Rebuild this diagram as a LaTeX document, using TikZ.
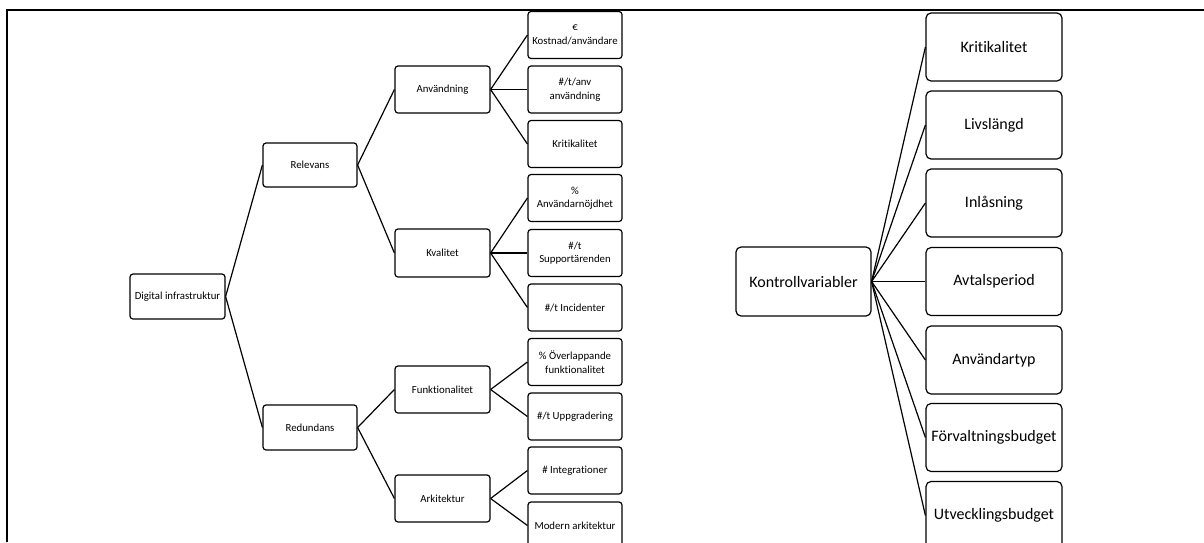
\documentclass[tikz,border=0pt]{standalone}
\usepackage{fontspec}
\setmainfont{Carlito}[Ligatures=NoCommon]
\begin{document}
\begin{tikzpicture}[x=1pt,y=-1pt,
  small/.style={draw,line width=1.2pt,rounded corners=3pt,inner sep=0pt,
    minimum width=95pt,minimum height=47pt,align=center,
    font=\fontsize{10.8}{13.5}\selectfont},
  big/.style={draw,line width=1.2pt,rounded corners=5pt,inner sep=0pt,
    minimum width=136pt,minimum height=68pt,align=center,
    font=\fontsize{16}{19}\selectfont},
  link/.style={line width=1.2pt}]
\useasboundingbox (0,0) rectangle (1204,542);
% frame lines
\draw[line width=2.2pt] (7,542) -- (7,10) -- (1204,10);

% left tree
\node[small,minimum height=45pt] (dig) at (177.5,296.5) {Digital infrastruktur};
\node[small,minimum width=94pt,minimum height=44pt] (rel) at (310,165) {Relevans};
\node[small,minimum width=94pt,minimum height=45pt] (red) at (310,427.5) {Redundans};
\node[small] (anv) at (442.5,89.5) {Användning};
\node[small,minimum height=48pt] (kva) at (442.5,253) {Kvalitet};
\node[small] (fun) at (442.5,389.5) {Funktionalitet};
\node[small] (ark) at (442.5,498.5) {Arkitektur};

\node[small,minimum width=94pt] (k1) at (575,35) {€\\Kostnad/användare};
\node[small,minimum width=94pt] (k2) at (575,89.5) {\#/t/anv\\användning};
\node[small,minimum width=94pt] (k3) at (575,144) {Kritikalitet};
\node[small,minimum width=94pt] (k4) at (575,198) {\%\\Användarnöjdhet};
\node[small,minimum width=94pt] (k5) at (575,253) {\#/t\\Supportärenden};
\node[small,minimum width=94pt] (k6) at (575,307.5) {\#/t Incidenter};
\node[small,minimum width=94pt] (k7) at (575,362) {\% Överlappande\\funktionalitet};
\node[small,minimum width=94pt] (k8) at (575,416.5) {\#/t Uppgradering};
\node[small,minimum width=94pt] (k9) at (575,470.5) {\# Integrationer};
\node[small,minimum width=94pt] (k10) at (575,525.5) {Modern arkitektur};

\foreach \a/\b in {dig/rel,dig/red,rel/anv,rel/kva,red/fun,red/ark,
    anv/k1,anv/k2,anv/k3,kva/k4,kva/k5,kva/k6,fun/k7,fun/k8,ark/k9,ark/k10}
  \draw[link] (\a.east) -- (\b.west);

% control variables
\node[big,minimum width=135pt,minimum height=69pt] (kon) at (803.5,281.5) {Kontrollvariabler};
\node[big] (c1) at (994,47) {Kritikalitet};
\node[big] (c2) at (994,125) {Livslängd};
\node[big] (c3) at (994,203) {Inlåsning};
\node[big] (c4) at (994,281.5) {Avtalsperiod};
\node[big] (c5) at (994,360) {Användartyp};
\node[big] (c6) at (994,437.5) {Förvaltningsbudget};
\node[big] (c7) at (994,515.5) {Utvecklingsbudget};

\foreach \b in {c1,c2,c3,c4,c5,c6,c7}
  \draw[link] (kon.east) -- (\b.west);
\end{tikzpicture}
\end{document}
